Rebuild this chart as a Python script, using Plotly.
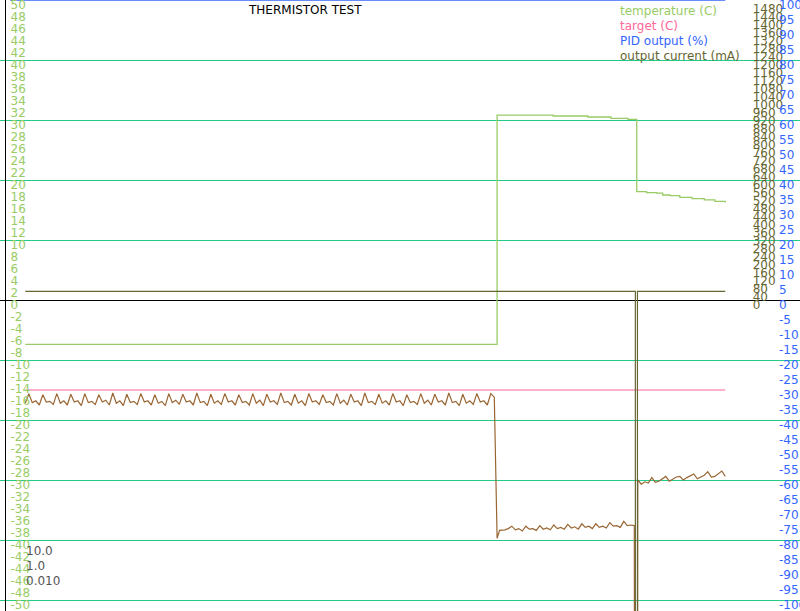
import plotly.graph_objects as go

# ---------------- data ----------------
# time axis (s)
temp_t = [0, 134.8, 150.8, 160.7, 167.3, 172.2, 174.7, 177.5, 180.4, 182.1, 184.2, 187.0, 190.5, 194.0, 197.0, 200.0]
temp_v = [-7.4, 30.8, 30.67, 30.5, 30.28, 30.12, 18.05, 17.9, 17.8, 17.5, 17.4, 17.1, 16.9, 16.7, 16.45, 16.25]

target_t = [0, 200]
target_v = [-15, -15]

pid_t = [-4.3, 200]
pid_v = [100, 100]

current_t = [0, 174.3, 174.3, 174.9, 174.9, 200]
current_v = [43, 43, -9000, -9000, 43, 43]

seg1 = [-17.2,
        -15.6, -17.1, -16.8, -17.5, -15.8, -17.0, -16.9, -17.4, -15.6, -17.2, -16.8, -17.5,
        -15.7, -17.0, -16.8, -17.6, -15.6, -17.1, -16.9, -17.4, -15.8, -17.0, -16.7, -17.5,
        -15.5, -17.2, -16.8, -17.6, -15.7, -17.1, -16.9, -17.4, -15.6, -17.0, -16.8, -17.5,
        -15.8, -17.2, -16.9, -17.6, -15.6, -17.1, -16.7, -17.4, -15.7, -17.0, -16.8, -17.5,
        -15.5, -17.1, -16.9, -17.6, -15.7, -17.2, -16.8, -17.4, -15.6, -17.0, -16.8, -17.5,
        -15.8, -17.1, -16.9, -17.5, -15.6, -17.2, -16.7, -17.6, -15.7, -17.0, -16.8, -17.4,
        -15.5, -17.1, -16.9, -17.5, -15.7, -17.2, -16.8, -17.6, -15.6, -17.0, -16.8, -17.4,
        -15.8, -17.1, -16.9, -17.5, -15.6, -17.2, -16.7, -17.5, -15.7, -17.0, -16.8, -17.6,
        -15.5, -17.1, -16.9, -17.4, -15.7, -17.2, -16.8, -17.5, -15.6, -17.0, -16.8, -17.6,
        -15.8, -17.1, -16.9, -17.4, -15.6, -17.2, -16.7, -17.5, -15.7, -17.0, -16.8, -17.5,
        -15.5, -17.1, -16.9, -17.6, -15.7, -17.2, -16.8, -17.4, -15.6, -17.0, -16.8, -17.5,
        -15.6, -16.2]
drop1 = [(134.8, -39.7), (135.5, -38.4)]
seg2 = [-38.4, -38.3, -38.1, -37.7, -38.3, -38.1, -38.5, -37.7, -38.2, -38.1, -38.4, -37.6,
        -38.2, -38.0, -38.3, -37.5, -38.1, -37.9, -38.2, -37.4, -38.0, -37.8, -38.2, -37.3,
        -37.9, -37.7, -38.1, -37.3, -37.9, -37.7, -38.0, -37.1, -37.7, -37.6, -37.9, -36.9,
        -37.6, -37.5, -37.6]
drop2 = [(174.5, -300)]
seg3 = [-30.0, -30.7, -30.3, -30.5, -29.6, -30.4, -30.2, -29.8, -29.4, -30.2, -29.9, -29.5,
        -29.4, -30.0, -29.6, -29.3, -29.0, -29.8, -29.5, -29.2, -28.6, -29.5, -29.4, -29.0,
        -28.5, -29.4]

temp_ticks = list(range(-50, 51, 2))
grid_ticks = list(range(-50, 51, 10))
ma_ticks = list(range(0, 1481, 40))
pid_ticks = list(range(-100, 101, 5))

legend_labels = ["temperature (C)", "target (C)", "PID output (%)", "output current (mA)"]
pid_params = ["10.0", "1.0", "0.010"]
title_text = "THERMISTOR TEST"

# ---------------- build ----------------
brown_t = list(range(0, len(seg1))) + [p[0] for p in drop1] + list(range(136, 136 + len(seg2))) \
    + [p[0] for p in drop2] + list(range(175, 175 + len(seg3)))
brown_v = seg1 + [p[1] for p in drop1] + seg2 + [p[1] for p in drop2] + seg3

C_TEMP = "#99cc66"
C_TARGET = "#ff6699"
C_PID = "#3366ff"
C_CUR = "#666633"
C_BROWN = "#996633"
C_GRID = "#22cc88"
FONT = "DejaVu Sans"

W, H = 800, 611

fig = go.Figure()
fig.add_trace(go.Scatter(x=brown_t, y=brown_v, mode="lines", line=dict(color=C_BROWN, width=1.2),
                         yaxis="y", showlegend=False))
fig.add_trace(go.Scatter(x=target_t, y=target_v, mode="lines", line=dict(color=C_TARGET, width=1.2),
                         yaxis="y", name=legend_labels[1]))
fig.add_trace(go.Scatter(x=temp_t, y=temp_v, mode="lines", line=dict(color=C_TEMP, width=1.3, shape="hv"),
                         yaxis="y", name=legend_labels[0]))
fig.add_trace(go.Scatter(x=pid_t, y=pid_v, mode="lines", line=dict(color=C_PID, width=1.5),
                         yaxis="y3", name=legend_labels[2]))
fig.add_trace(go.Scatter(x=current_t, y=current_v, mode="lines", line=dict(color=C_CUR, width=1.2),
                         yaxis="y2", name=legend_labels[3]))
fig.add_trace(go.Scatter(x=[None], y=[None], yaxis="y4", showlegend=False, hoverinfo="skip"))

t_per_px = 1 / 3.5
x0_px = 25.3
xr = [-x0_px * t_per_px, (W - x0_px) * t_per_px]

temp_range = [50 - H / 6.0, 50]
ma_range = [1500 - H * 5.0, 1500]
pid_range = [100 - H / 3.0, 100]


def lab(v):
    return str(v)  # plain hyphen minus


def yax(rng, ticks, pos, color, **kw):
    d = dict(range=rng, tickmode="array", tickvals=ticks, ticktext=[lab(v) for v in ticks],
             side="right", anchor="free", position=pos, automargin=False,
             ticks="", showgrid=False, zeroline=False, showline=False,
             tickfont=dict(family=FONT, size=12, color=color),
             ticklabelshift=5, ticklabeloverflow="allow")
    d.update(kw)
    return d


fig.update_layout(
    template="none",
    width=W, height=H, autosize=False,
    margin=dict(l=0, r=0, t=0, b=0, pad=0),
    paper_bgcolor="white", plot_bgcolor="white",
    showlegend=False,
    font=dict(family=FONT, size=12),
    xaxis=dict(range=xr, visible=False, domain=[0, 1], automargin=False, showgrid=False, zeroline=False),
    yaxis=yax(temp_range, temp_ticks, 9.5 / W, C_TEMP),
    yaxis2=yax(ma_range, ma_ticks, 751.7 / W, C_CUR, overlaying="y"),
    yaxis3=yax(pid_range, pid_ticks, 778 / W, C_PID, overlaying="y"),
    yaxis4=dict(range=temp_range, tickmode="array", tickvals=grid_ticks, side="left", overlaying="y",
                anchor="free", position=5 / W, showticklabels=False, ticks="", automargin=False,
                showgrid=True, gridcolor=C_GRID, gridwidth=1.2,
                zeroline=True, zerolinecolor="black", zerolinewidth=1.2,
                showline=True, linecolor="black", linewidth=1.2),
)

annos = []
annos.append(dict(text=title_text, x=305 / W, y=1 - 10 / H, xref="paper", yref="paper",
                  xanchor="center", yanchor="middle", showarrow=False,
                  font=dict(family=FONT, size=12, color="black")))
leg_colors = [C_TEMP, C_TARGET, C_PID, C_CUR]
for i, (lt, col) in enumerate(zip(legend_labels, leg_colors)):
    annos.append(dict(text=lt, x=618 / W, y=1 - (10.8 + 15 * i) / H, xref="paper", yref="paper",
                      xanchor="left", yanchor="middle", showarrow=False,
                      font=dict(family=FONT, size=12, color=col)))
for i, lt in enumerate(pid_params):
    annos.append(dict(text=lt, x=24 / W, y=1 - (550.5 + 15 * i) / H, xref="paper", yref="paper",
                      xanchor="left", yanchor="middle", showarrow=False,
                      font=dict(family=FONT, size=12, color="#555555")))
fig.update_layout(annotations=annos)

fig.write_html("out.html")
